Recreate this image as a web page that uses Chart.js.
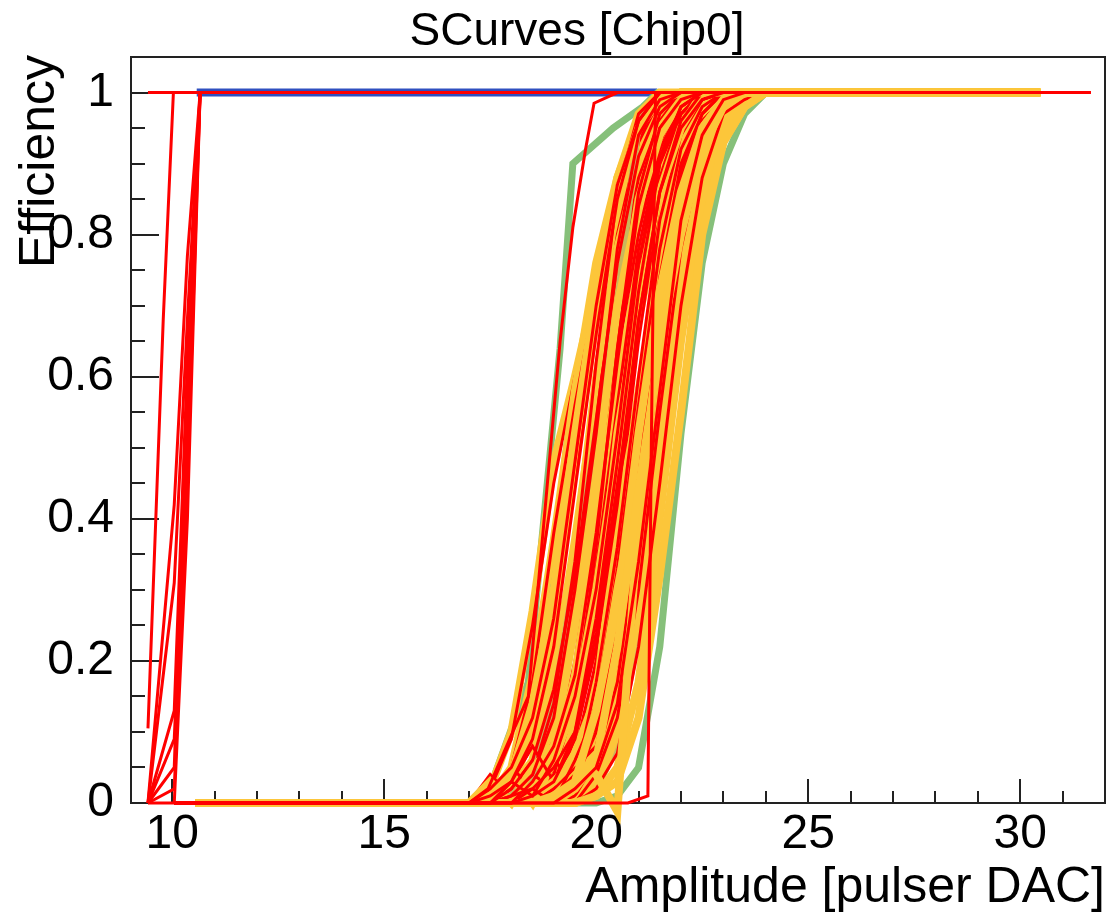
<!DOCTYPE html>
<html>
<head>
<meta charset="utf-8">
<script src="https://cdn.jsdelivr.net/npm/chart.js@4.4.0/dist/chart.umd.min.js"></script>
<style>
  html, body { margin: 0; padding: 0; background: #fff; }
  canvas { display: block; }
</style>
</head>
<body>
<canvas id="scurves" width="1112" height="918"></canvas>
<script>
// amplitude points [pulser DAC] for the main bundle of pixels
const yellowAmp = [10.55, 17, 17.5, 18, 18.5, 19, 19.5, 20, 20.5, 21, 21.5, 22, 22.5, 23, 23.5, 24, 30.47];
const redAmp = [10.05, 17, 17.5, 18, 18.5, 19, 19.5, 20, 20.5, 21, 21.5, 22, 22.5, 23, 23.5, 24, 31.65];
// the early pixels on the far left
const leftAmp = [9.43, 10.05, 10.36, 10.66, 31.65];

const xTickValues = [10, 15, 20, 25, 30];
const yTickValues = [0, 0.2, 0.4, 0.6, 0.8, 1];

// efficiency per pixel
const yellowEff = [
  [0, 0, 0.02, 0.10, 0.27, 0.48, 0.60, 0.73, 0.88, 0.97, 1, 1, 1, 1, 1, 1, 1],
  [0, 0, 0.008, 0.05, 0.18, 0.37, 0.58, 0.76, 0.88, 0.96, 0.99, 1, 1, 1, 1, 1, 1],
  [0, 0, 0, 0.02, 0.10, 0.27, 0.48, 0.68, 0.83, 0.93, 0.98, 1, 1, 1, 1, 1, 1],
  [0, 0, 0, 0.03, 0.12, 0.25, 0.50, 0.70, 0.85, 0.92, 0.99, 1, 1, 1, 1, 1, 1],
  [0, 0, 0, 0.008, 0.05, 0.18, 0.37, 0.58, 0.76, 0.88, 0.96, 0.99, 1, 1, 1, 1, 1],
  [0, 0, 0.01, 0.02, 0.06, 0.20, 0.35, 0.60, 0.78, 0.90, 0.97, 1, 1, 1, 1, 1, 1],
  [0, 0, 0, 0, 0.02, 0.10, 0.27, 0.48, 0.68, 0.83, 0.93, 0.98, 1, 1, 1, 1, 1],
  [0, 0, 0, 0.01, 0.04, 0.12, 0.30, 0.50, 0.66, 0.85, 0.95, 0.99, 1, 1, 1, 1, 1],
  [0, 0, 0, 0, 0.008, 0.05, 0.18, 0.37, 0.58, 0.76, 0.88, 0.96, 0.99, 1, 1, 1, 1],
  [0, 0, 0, 0, 0.02, 0.08, 0.16, 0.40, 0.60, 0.74, 0.90, 0.97, 1, 1, 1, 1, 1],
  [0, 0, 0, 0, 0, 0.02, 0.10, 0.27, 0.48, 0.68, 0.83, 0.93, 0.98, 1, 1, 1, 1],
  [0, 0, 0, 0, 0.01, 0.03, 0.12, 0.25, 0.52, 0.70, 0.82, 0.95, 0.99, 1, 1, 1, 1],
  [0, 0, 0, 0, 0, 0.008, 0.05, 0.18, 0.37, 0.58, 0.76, 0.88, 0.96, 0.99, 1, 1, 1],
  [0, 0, 0, 0, 0, 0.02, 0.07, 0.15, 0.40, 0.56, 0.78, 0.90, 0.97, 1, 1, 1, 1],
  [0, 0, 0, 0, 0, 0, 0.02, 0.10, 0.27, 0.48, 0.68, 0.83, 0.93, 0.98, 1, 1, 1],
  [0, 0, 0, 0, 0, 0.01, 0.04, 0.12, 0.30, 0.46, 0.70, 0.85, 0.94, 0.99, 1, 1, 1],
  [0, 0, 0, 0, 0, 0, 0.008, 0.05, 0.18, 0.37, 0.58, 0.76, 0.88, 0.96, 0.99, 1, 1],
  [0, 0, 0, 0, 0, 0, 0.015, 0.07, 0.16, 0.40, 0.60, 0.80, 0.90, 0.97, 1, 1, 1],
  [0, 0, 0, 0, 0, 0, 0, 0.02, 0.10, 0.27, 0.48, 0.68, 0.83, 0.93, 0.98, 1, 1],
  [0, 0, 0, 0, 0, 0, 0, 0.03, 0.12, 0.30, 0.52, 0.72, 0.86, 0.95, 0.99, 1, 1],
  [0, 0, 0, 0, 0, 0, 0, 0.01, 0.05, 0.17, 0.40, 0.65, 0.85, 0.95, 0.99, 1, 1],
  [0, 0, 0, 0, 0, 0, 0, 0.01, 0.03, 0.12, 0.32, 0.55, 0.80, 0.93, 0.98, 1, 1],
  [0, 0, 0.03, 0, 0.05, 0.08, 0.25, 0.46, 0.70, 0.84, 0.94, 0.99, 1, 1, 1, 1, 1],
  [0, 0, 0, 0.04, 0, 0.06, 0.14, 0.30, 0.50, 0.72, 0.86, 0.95, 1, 1, 1, 1, 1],
  [0, 0, 0, 0, 0.01, 0.03, 0.06, 0.04, -0.012, 0.40, 0.66, 0.85, 0.95, 0.99, 1, 1, 1],
  [0, 0, 0.01, 0.04, 0.14, 0.30, 0.52, 0.72, 0.86, 0.95, 0.99, 1, 1, 1, 1, 1, 1],
  [0, 0, 0, 0, 0, 0.01, 0.03, 0.13, 0.28, 0.52, 0.72, 0.86, 0.95, 0.99, 1, 1, 1],
  [0, 0, 0, 0, 0, 0, 0.02, 0.06, 0.22, 0.44, 0.64, 0.80, 0.92, 0.98, 1, 1, 1]
];

const redEff = [
  [0, 0, 0.02, 0.09, 0.25, 0.45, 0.60, 0.72, 0.86, 0.96, 1, 1, 1, 1, 1, 1, 1],
  [0, 0, 0.01, 0.05, 0.17, 0.38, 0.56, 0.72, 0.87, 0.96, 1, 1, 1, 1, 1, 1, 1],
  [0, 0, 0.01, 0.03, 0.08, 0.24, 0.45, 0.68, 0.86, 0.95, 0.99, 1, 1, 1, 1, 1, 1],
  [0, 0, 0, 0.02, 0.06, 0.18, 0.36, 0.60, 0.80, 0.93, 0.99, 1, 1, 1, 1, 1, 1],
  [0, 0, 0.04, 0.01, 0.05, 0.14, 0.33, 0.55, 0.76, 0.90, 0.97, 1, 1, 1, 1, 1, 1],
  [0, 0, 0, 0.01, 0.03, 0.11, 0.28, 0.50, 0.72, 0.88, 0.96, 1, 1, 1, 1, 1, 1],
  [0, 0, 0, 0.05, 0.02, 0.09, 0.24, 0.47, 0.68, 0.86, 0.96, 0.99, 1, 1, 1, 1, 1],
  [0, 0, 0, 0, 0.03, 0.07, 0.20, 0.42, 0.65, 0.84, 0.95, 0.99, 1, 1, 1, 1, 1],
  [0, 0, 0, 0.02, 0.06, 0.04, 0.17, 0.38, 0.63, 0.80, 0.93, 0.99, 1, 1, 1, 1, 1],
  [0, 0, 0, 0, 0.01, 0.05, 0.13, 0.33, 0.56, 0.78, 0.92, 0.98, 1, 1, 1, 1, 1],
  [0, 0, 0, 0, 0.01, 0.03, 0.12, 0.27, 0.50, 0.74, 0.90, 0.97, 1, 1, 1, 1, 1],
  [0, 0, 0, 0, 0.04, 0.02, 0.09, 0.24, 0.46, 0.70, 0.88, 0.97, 1, 1, 1, 1, 1],
  [0, 0, 0, 0, 0, 0.02, 0.07, 0.20, 0.40, 0.65, 0.85, 0.96, 0.99, 1, 1, 1, 1],
  [0, 0, 0, 0, 0, 0.06, 0.03, 0.17, 0.36, 0.60, 0.82, 0.94, 0.99, 1, 1, 1, 1],
  [0, 0, 0, 0, 0, 0.01, 0.05, 0.14, 0.33, 0.56, 0.78, 0.92, 0.98, 1, 1, 1, 1],
  [0, 0, 0, 0, 0, 0.01, 0.04, 0.11, 0.28, 0.50, 0.74, 0.90, 0.97, 1, 1, 1, 1],
  [0, 0, 0, 0, 0, 0, 0.03, 0.10, 0.24, 0.46, 0.70, 0.88, 0.96, 0.99, 1, 1, 1],
  [0, 0, 0, 0, 0, 0.02, 0.05, 0.08, 0.20, 0.42, 0.66, 0.86, 0.96, 0.99, 1, 1, 1],
  [0, 0, 0, 0, 0, 0, 0.01, 0.06, 0.17, 0.38, 0.63, 0.84, 0.95, 0.99, 1, 1, 1],
  [0, 0, 0, 0, 0, 0, 0, 0.04, 0.12, 0.30, 0.55, 0.78, 0.92, 0.98, 1, 1, 1],
  [0, 0, 0, 0, 0, 0, 0, 0.02, 0.07, 0.22, 0.45, 0.70, 0.88, 0.97, 0.99, 1, 1],
  [0, 0, 0, 0.01, 0.04, 0.14, 0.34, 0.62, 0.86, 0.97, 1, 1, 1, 1, 1, 1, 1],
  [0, 0, 0, 0, 0.01, 0.04, 0.14, 0.36, 0.64, 0.86, 0.97, 1, 1, 1, 1, 1, 1],
  [0, 0, 0, 0.03, 0.08, 0.03, 0.10, 0.22, 0.42, 0.68, 0.86, 0.96, 1, 1, 1, 1, 1],
  [0, 0, 0, 0, 0.02, 0, 0.06, 0.13, 0.26, 0.48, 0.72, 0.89, 0.97, 1, 1, 1, 1],
  [0, 0, 0, 0.01, 0.04, 0.12, 0.30, 0.52, 0.78, 0.94, 0.99, 1, 1, 1, 1, 1, 1],
  [0, 0, 0, 0.01, 0.02, 0.05, 0.10, 0.26, 0.48, 0.72, 0.90, 0.98, 1, 1, 1, 1, 1],
  [0, 0, 0, 0, 0, 0, 0.02, 0.05, 0.14, 0.34, 0.58, 0.82, 0.94, 0.99, 1, 1, 1],
  [0, 0, 0.01, 0.03, 0.09, 0.22, 0.44, 0.66, 0.85, 0.96, 1, 1, 1, 1, 1, 1, 1],
  [0, 0, 0, 0.02, 0.06, 0.16, 0.32, 0.54, 0.76, 0.91, 0.98, 1, 1, 1, 1, 1, 1],
  [0, 0, 0, 0, 0.03, 0.08, 0.18, 0.38, 0.62, 0.84, 0.95, 0.99, 1, 1, 1, 1, 1],
  [0, 0, 0, 0.03, 0.01, 0.06, 0.15, 0.30, 0.52, 0.76, 0.91, 0.98, 1, 1, 1, 1, 1],
  [0, 0, 0.02, 0.05, 0.12, 0.26, 0.48, 0.70, 0.87, 0.96, 1, 1, 1, 1, 1, 1, 1],
  [0, 0, 0, 0, 0.01, 0.03, 0.09, 0.22, 0.44, 0.68, 0.86, 0.95, 0.99, 1, 1, 1, 1]
];

const oliveEff = [
  [0, 0, 0, 0, 0, 0, 0, 0.02, 0.08, 0.24, 0.46, 0.68, 0.85, 0.95, 0.99, 1, 1],
  [0, 0, 0, 0.01, 0.04, 0.14, 0.32, 0.52, 0.70, 0.96, 0.99, 1, 1, 1, 1, 1, 1],
  [0, 0, 0, 0, 0, 0.01, 0.04, 0.12, 0.28, 0.50, 0.70, 0.86, 0.95, 0.99, 1, 1, 1]
];
const greenRightEff = [0, 0, 0, 0, 0, 0, 0, 0, 0.01, 0.05, 0.22, 0.52, 0.76, 0.90, 0.97, 1, 1];
const blueRightEff = [0, 0, 0, 0, 0, 0, 0, 0.04, 0.12, 0.28, 0.48, 0.68, 0.85, 0.93, 0.98, 1, 1];
const tealEff = [0, 0, 0.01, 0.05, 0.16, 0.36, 0.60, 0.72, 0.84, 0.94, 0.99, 1, 1, 1, 1, 1, 1];

// odd pixels with their own amplitude points
const greenOddAmp = [10.55, 17, 17.55, 18.4, 19.15, 19.45, 20.4, 21.1, 21.45, 30.47];
const greenOddEff = [0, 0, 0.03, 0.17, 0.64, 0.90, 0.95, 0.98, 1, 1];
const redOddAmp = [10.05, 17, 17.45, 18.4, 19.15, 19.45, 19.75, 19.95, 20.5, 31.65];
const redOddEff = [0, 0, 0.02, 0.15, 0.65, 0.81, 0.92, 0.985, 1, 1];
const redLateAmp = [10.05, 20.75, 21.22, 21.3, 21.4, 31.65];
const redLateEff = [0, 0, 0.01, 0.5, 1, 1];
const darkBlueAmp = [10.58, 21.44];
const darkBlueEff = [1, 1];

const leftEff = [
  [0, 0.02, 0.45, 1, 1],
  [0, 0.05, 0.58, 1, 1],
  [0, 0.09, 0.50, 1, 1],
  [0, 0.13, 0.62, 1, 1],
  [0, 0.31, 0.68, 1, 1],
  [0, 0.42, 0.77, 1, 1],
  [0, 0, 0.40, 1, 1],
  [1, 1, 1, 1, 1]
];
const leftFastAmp = [9.43, 9.79, 10.03, 31.65];
const leftFastEff = [0.105, 0.68, 1, 1];

const RED = '#ff0000';
const YELLOW = '#fcc63a';
const GREEN = '#86c07a';
const OLIVE = '#c9b75b';
const BLUE = '#1a87dc';
const TEAL = '#2ba3c4';
const DARKBLUE = '#3050c0';

function curve(xs, ys, color, width) {
  return {
    data: xs.map((x, i) => ({ x: x, y: ys[i] })),
    borderColor: color,
    borderWidth: width,
    showLine: true,
    pointRadius: 0,
    tension: 0,
    fill: false,
    clip: false
  };
}

// paint order: first entry at the bottom
const paint = [];
paint.push(curve(darkBlueAmp, darkBlueEff, DARKBLUE, 8));
paint.push(curve(greenOddAmp, greenOddEff, GREEN, 7));
paint.push(curve(yellowAmp, tealEff, TEAL, 6));
paint.push(curve(yellowAmp, blueRightEff, BLUE, 7));
paint.push(curve(yellowAmp, greenRightEff, GREEN, 7));
for (let i = 0; i < Math.max(yellowEff.length, redEff.length); i++) {
  if (yellowEff[i]) paint.push(curve(yellowAmp, yellowEff[i], YELLOW, 8));
  if (i === 14) oliveEff.forEach(o => paint.push(curve(yellowAmp, o, OLIVE, 7)));
  if (redEff[i]) paint.push(curve(redAmp, redEff[i], RED, 3));
}
paint.push(curve(redOddAmp, redOddEff, RED, 3));
paint.push(curve(redLateAmp, redLateEff, RED, 3));
leftEff.forEach(ys => paint.push(curve(leftAmp, ys, RED, 3)));
paint.push(curve(leftFastAmp, leftFastEff, RED, 3));

const FONT = "'Liberation Sans', Arial, Helvetica, sans-serif";

const rootFrame = {
  id: 'rootFrame',
  beforeDatasetsDraw(chart) {
    const { ctx, chartArea: a, scales: { x, y } } = chart;
    ctx.save();
    ctx.strokeStyle = '#222';
    ctx.lineWidth = 2;
    ctx.strokeRect(a.left, a.top, a.right - a.left, a.bottom - a.top);
    ctx.beginPath();
    for (let v = 10; v <= 32; v++) {
      const px = Math.round(x.getPixelForValue(v));
      const len = v % 5 === 0 ? 24 : 12;
      ctx.moveTo(px, a.bottom);
      ctx.lineTo(px, a.bottom - len);
    }
    for (let k = 0; k <= 20; k++) {
      const py = Math.round(y.getPixelForValue(k * 0.05));
      const len = k % 4 === 0 ? 28 : 14;
      ctx.moveTo(a.left, py);
      ctx.lineTo(a.left + len, py);
    }
    ctx.stroke();
    ctx.restore();
  },
  afterDraw(chart) {
    const { ctx, chartArea: a } = chart;
    ctx.save();
    ctx.fillStyle = '#000';
    ctx.textBaseline = 'alphabetic';
    ctx.font = '46px ' + FONT;
    ctx.textAlign = 'center';
    ctx.fillText('SCurves [Chip0]', 577, 45);
    ctx.font = '50px ' + FONT;
    ctx.textAlign = 'right';
    ctx.fillText('Amplitude [pulser DAC]', a.right, 902);
    ctx.translate(54, 55);
    ctx.rotate(-Math.PI / 2);
    ctx.textAlign = 'right';
    ctx.font = '50px ' + FONT;
    ctx.fillText('Efficiency', 0, 0);
    ctx.restore();
  }
};

new Chart(document.getElementById('scurves'), {
  type: 'scatter',
  data: { datasets: paint.slice().reverse() },
  options: {
    responsive: false,
    animation: false,
    devicePixelRatio: 1,
    layout: { padding: { top: 57, right: 7, left: 0, bottom: 0 } },
    plugins: { legend: { display: false }, tooltip: { enabled: false } },
    scales: {
      x: {
        type: 'linear',
        min: 9.03,
        max: 32,
        grid: { display: false },
        border: { display: false },
        ticks: { color: '#000', font: { family: FONT, size: 48 }, padding: -5, maxRotation: 0, autoSkip: false },
        afterBuildTicks: s => { s.ticks = xTickValues.map(v => ({ value: v })); },
        afterFit: s => { s.height = 115; }
      },
      y: {
        type: 'linear',
        min: 0,
        max: 1.05,
        grid: { display: false },
        border: { display: false },
        ticks: { color: '#000', font: { family: FONT, size: 48 }, padding: 9, autoSkip: false,
                 callback: v => String(v) },
        afterBuildTicks: s => { s.ticks = yTickValues.map(v => ({ value: v })); },
        afterFit: s => { s.width = 131; }
      }
    }
  },
  plugins: [rootFrame]
});
</script>
</body>
</html>
